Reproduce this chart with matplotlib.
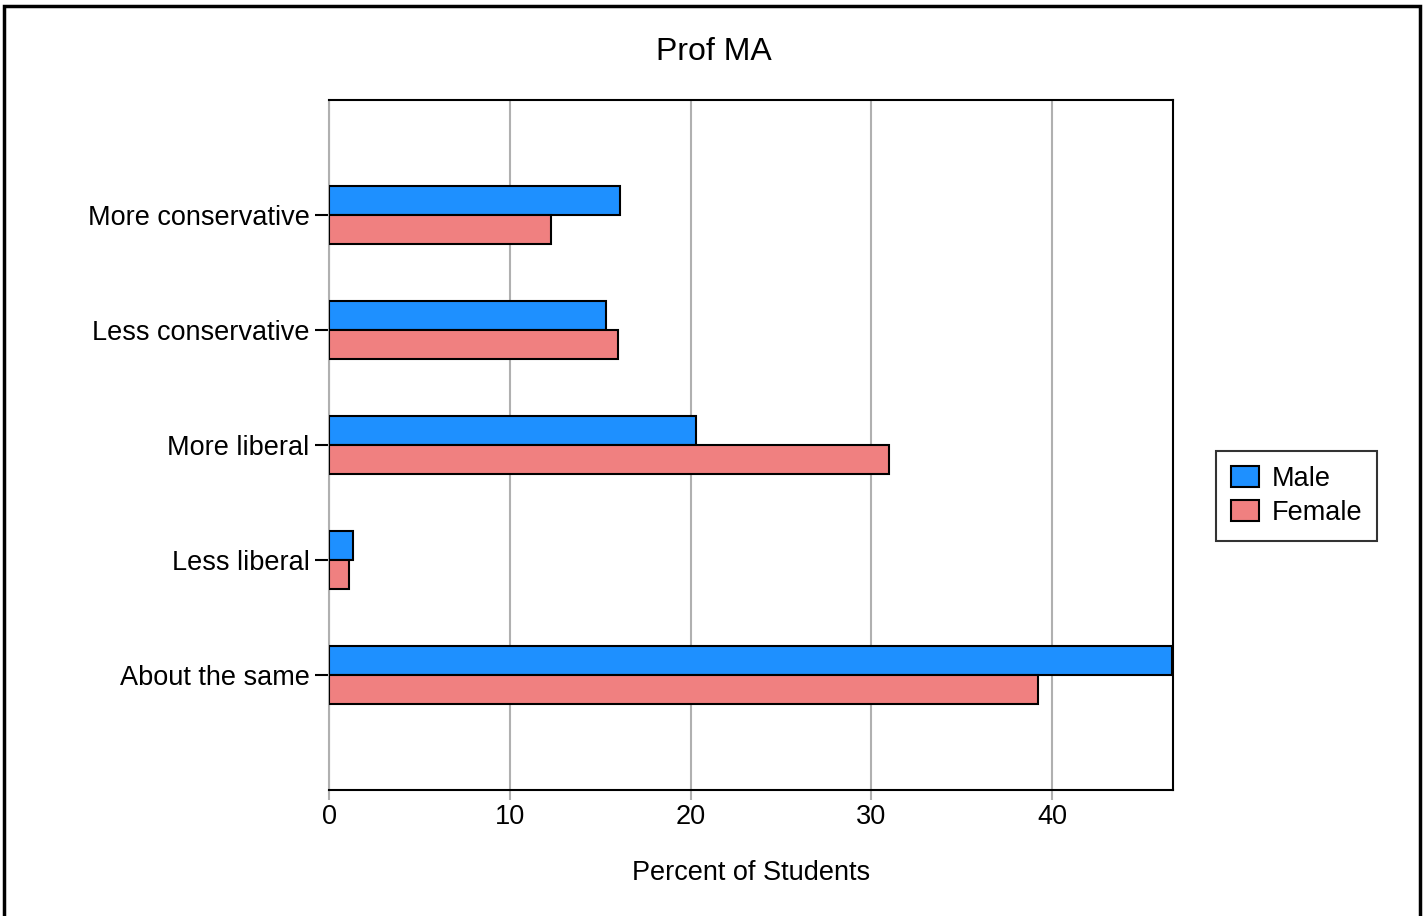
import numpy as np
import matplotlib.pyplot as plt
from matplotlib.patches import Rectangle

plt.rcParams['font.family'] = ['Liberation Sans', 'DejaVu Sans']

categories = ["About the same", "Less liberal", "More liberal",
              "Less conservative", "More conservative"]
male = [46.65, 1.3, 20.3, 15.3, 16.1]
female = [39.2, 1.1, 31.0, 16.0, 12.3]
xticks = [0, 10, 20, 30, 40]

fig = plt.figure(figsize=(14.27, 9.16), dpi=100)
ax = fig.add_axes([0.2306, 0.1376, 0.5915, 0.7532])

y = np.arange(len(categories))
h = 0.25
ax.barh(y + h / 2, male, height=h, color="#1E90FF", edgecolor="black",
        linewidth=1.5, label="Male", zorder=3)
ax.barh(y - h / 2, female, height=h, color="#F08080", edgecolor="black",
        linewidth=1.5, label="Female", zorder=3)

fs = 19.5
ax.set_xlim(0, 46.7)
ax.set_ylim(-1, 5)
ax.set_yticks(y)
ax.set_yticklabels(categories, fontsize=fs)
ax.set_xticks(xticks)
ax.set_xticklabels([str(t) for t in xticks], fontsize=fs)
ax.tick_params(axis="x", color="#b0b0b0", length=7, width=1.5, pad=3)
ax.tick_params(axis="y", color="black", length=10, width=1.5, pad=4)
ax.grid(axis="x", color="#b0b0b0", linewidth=1.5, zorder=0)

for s in ["top", "right", "bottom"]:
    ax.spines[s].set_linewidth(1.5)
    ax.spines[s].set_color("black")
ax.spines["left"].set_color("#b0b0b0")
ax.spines["left"].set_linewidth(1.5)

ax.set_xlabel("Percent of Students", fontsize=fs, labelpad=22)
fig.text(0.5, 1 - 52 / 916, "Prof MA", fontsize=23, ha="center", va="center")

leg = ax.legend(loc="center left", bbox_to_anchor=(1216 / 1427, 1 - 496 / 916),
                bbox_transform=fig.transFigure, fontsize=fs,
                frameon=True, fancybox=False, edgecolor="black",
                handlelength=1.05, handleheight=0.8, handletextpad=0.45,
                borderpad=0.55, labelspacing=0.3, borderaxespad=0)
leg.get_frame().set_linewidth(1.5)

fig.patches.append(Rectangle((4 / 1427, -0.02), 1416 / 1427, 1 - 6 / 916 + 0.02,
                             transform=fig.transFigure, fill=False,
                             edgecolor="black", linewidth=2.5))

fig.savefig("out.png", dpi=100)
